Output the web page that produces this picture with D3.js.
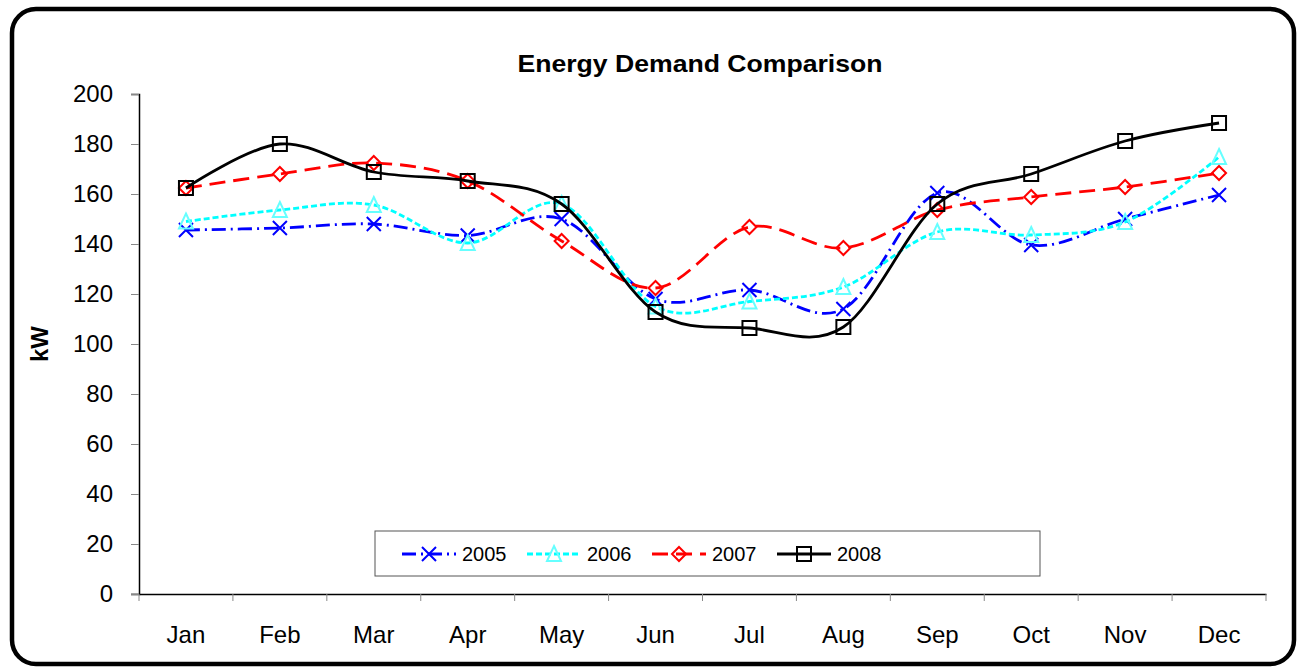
<!DOCTYPE html>
<html>
<head>
<meta charset="utf-8">
<script src="https://cdn.jsdelivr.net/npm/d3@7"></script>
<style>
  body { margin: 0; background: #fff; }
  text { font-family: Arial, "Liberation Sans", sans-serif; }
</style>
</head>
<body>
<svg id="chart" width="1298" height="671"></svg>
<script>
var months = ["Jan", "Feb", "Mar", "Apr", "May", "Jun", "Jul", "Aug", "Sep", "Oct", "Nov", "Dec"];
var yTicks = [0, 20, 40, 60, 80, 100, 120, 140, 160, 180, 200];
var seriesNames = ["2005", "2006", "2007", "2008"];

var v2005 = [145.6, 146.4, 148, 143.4, 150, 118, 121.6, 114, 160.4, 139.6, 150, 159.6];
var v2006 = [149, 153.6, 155.6, 140.4, 156, 115, 117, 122.8, 144.8, 143.6, 148.8, 174.8];
var v2007 = [162.4, 168, 172.4, 165.2, 141.2, 122.4, 146.8, 138.4, 153.6, 158.8, 162.8, 168.4];
var v2008 = [162.4, 180, 168.8, 165.2, 156, 112.8, 106.4, 106.8, 156, 168, 181.2, 188.4];

var seriesValues = [v2005, v2006, v2007, v2008];
var colors = ["#0000ff", "#00ffff", "#ff0000", "#000000"];
var markerColors = ["#0000ff", "#66ffff", "#ff0000", "#000000"];
var dashes = ["14,5,2,5", "6,3", "16,8", null];
var markers = ["x", "triangle", "diamond", "square"];

var svg = d3.select("#chart");

// outer rounded border
svg.append("rect")
    .attr("x", 12).attr("y", 9)
    .attr("width", 1282).attr("height", 655)
    .attr("rx", 24).attr("ry", 24)
    .attr("fill", "#fff")
    .attr("stroke", "#000")
    .attr("stroke-width", 4.5);

var plotL = 139, plotR = 1266, plotT = 94, plotB = 594;

var x = d3.scaleBand().domain(months).range([plotL, plotR]);
var y = d3.scaleLinear().domain([0, 200]).range([plotB, plotT]);

// title
svg.append("text")
    .attr("x", 700).attr("y", 72)
    .attr("text-anchor", "middle")
    .attr("textLength", 365).attr("lengthAdjust", "spacingAndGlyphs")
    .style("font-size", "24px").style("font-weight", "bold")
    .text("Energy Demand Comparison");

// y axis
var yAxis = svg.append("g")
    .attr("transform", "translate(" + plotL + ",0)")
    .call(d3.axisLeft(y).tickValues(yTicks).tickSize(8).tickPadding(18));
yAxis.select(".domain").attr("stroke", "#000").attr("stroke-width", 1.5);
yAxis.selectAll(".tick line").attr("stroke", "#888");
yAxis.selectAll(".tick text")
    .style("font-size", "24px").attr("fill", "#000")
    .attr("font-family", "Arial, 'Liberation Sans', sans-serif");

// x axis - ticks at band boundaries
var xAxis = svg.append("g")
    .attr("transform", "translate(0," + plotB + ")")
    .call(d3.axisBottom(x).tickSize(0).tickPadding(32));
xAxis.select(".domain").attr("stroke", "#000").attr("stroke-width", 1.5);
xAxis.selectAll(".tick text")
    .style("font-size", "24px").attr("fill", "#000")
    .attr("font-family", "Arial, 'Liberation Sans', sans-serif");
var bounds = months.map(function(m) { return x(m); }).concat([x(months[months.length - 1]) + x.bandwidth()]);
xAxis.selectAll(".bt").data(bounds).enter().append("line")
    .attr("x1", function(d) { return d; }).attr("x2", function(d) { return d; })
    .attr("y1", 0).attr("y2", 7)
    .attr("stroke", "#888");
svg.append("line")
    .attr("x1", plotL - 8).attr("x2", plotL)
    .attr("y1", plotB).attr("y2", plotB)
    .attr("stroke", "#888");

// y label
svg.append("text")
    .attr("transform", "translate(48," + ((plotT + plotB) / 2) + ") rotate(-90)")
    .attr("text-anchor", "middle")
    .style("font-size", "24px").style("font-weight", "bold")
    .text("kW");

var line = d3.line()
    .x(function(d, i) { return x(months[i]) + x.bandwidth() / 2; })
    .y(function(d) { return y(d); })
    .curve(d3.curveCardinal.tension(0));

function drawMarker(g, type, cx, cy, color) {
    var s = 7;
    if (type === "x") {
        g.append("path")
            .attr("d", "M" + (cx - s) + "," + (cy - s) + "L" + (cx + s) + "," + (cy + s) +
                       "M" + (cx - s) + "," + (cy + s) + "L" + (cx + s) + "," + (cy - s))
            .attr("stroke", color).attr("stroke-width", 2).attr("fill", "none");
    } else if (type === "triangle") {
        g.append("path")
            .attr("d", "M" + cx + "," + (cy - s - 1) + "L" + (cx + s) + "," + (cy + s) + "L" + (cx - s) + "," + (cy + s) + "Z")
            .attr("stroke", color).attr("stroke-width", 2).attr("fill", "none");
    } else if (type === "diamond") {
        g.append("path")
            .attr("d", "M" + cx + "," + (cy - s) + "L" + (cx + s) + "," + cy + "L" + cx + "," + (cy + s) + "L" + (cx - s) + "," + cy + "Z")
            .attr("stroke", color).attr("stroke-width", 2).attr("fill", "none");
    } else {
        g.append("rect")
            .attr("x", cx - s).attr("y", cy - s).attr("width", 2 * s).attr("height", 2 * s)
            .attr("stroke", color).attr("stroke-width", 2).attr("fill", "none");
    }
}

seriesValues.forEach(function(vals, k) {
    var g = svg.append("g");
    g.append("path")
        .datum(vals)
        .attr("d", line)
        .attr("fill", "none")
        .attr("stroke", colors[k])
        .attr("stroke-width", 2.8)
        .attr("stroke-dasharray", dashes[k]);
    vals.forEach(function(v, i) {
        drawMarker(g, markers[k], x(months[i]) + x.bandwidth() / 2, y(v), markerColors[k]);
    });
});

// legend
var lg = svg.append("g");
lg.append("rect")
    .attr("x", 375).attr("y", 531).attr("width", 665).attr("height", 45)
    .attr("fill", "#fff").attr("stroke", "#555").attr("stroke-width", 1);
seriesNames.forEach(function(name, k) {
    var lx = 402 + k * 125, ly = 554;
    lg.append("line")
        .attr("x1", lx).attr("x2", lx + 54)
        .attr("y1", ly).attr("y2", ly)
        .attr("stroke", colors[k]).attr("stroke-width", 2.8)
        .attr("stroke-dasharray", dashes[k]);
    drawMarker(lg, markers[k], lx + 27, ly, markerColors[k]);
    lg.append("text")
        .attr("x", lx + 60).attr("y", ly + 7)
        .style("font-size", "20px")
        .text(name);
});
</script>
</body>
</html>
